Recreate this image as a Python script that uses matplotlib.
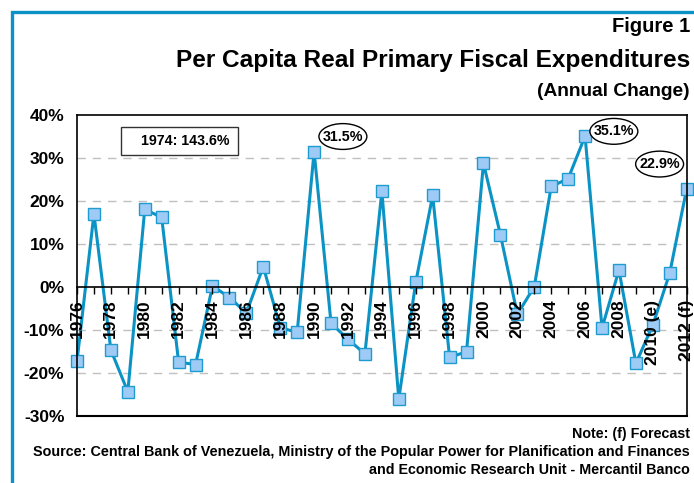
import matplotlib
matplotlib.use("Agg")
import matplotlib.pyplot as plt
from matplotlib.patches import Rectangle, Ellipse
from matplotlib.ticker import MultipleLocator, FuncFormatter

plt.rcParams['font.family'] = ['Liberation Sans', 'DejaVu Sans']
plt.rcParams['font.weight'] = 'bold'

# annual change of per capita real primary fiscal expenditures, %
years = list(range(1976, 2013))
change = [-17.2, 17.0, -14.6, -24.3, 18.1, 16.2, -17.4, -18.0, 0.3, -2.4,
          -6.0, 4.8, -9.4, -10.5, 31.5, -8.4, -12.1, -15.5, 22.3, -26.0,
          1.1, 21.3, -16.3, -15.0, 28.8, 12.2, -6.3, 0.1, 23.4, 25.2,
          35.1, -9.5, 4.0, -17.7, -8.8, 3.3, 22.9]
tick_years = list(range(1976, 2013, 2))
tick_labels = [str(y) for y in tick_years[:-2]] + ["2010 (e)", "2012 (f)"]
callouts = {1990: "31.5%", 2006: "35.1%", 2012: "22.9%"}

BLUE = "#0a93c4"
W, H = 694, 483

fig = plt.figure(figsize=(W / 100, H / 100), dpi=100)
fig.patch.set_facecolor("white")

# frame around the whole figure
fig.add_artist(Rectangle((11.5 / W, -0.1), 1.2, (H - 11.5) / H + 0.1,
                         transform=fig.transFigure, fill=False,
                         edgecolor=BLUE, linewidth=2.4))

ax = fig.add_axes([77 / W, (H - 416.3) / H, (686.7 - 77) / W, (416.3 - 115) / H])
ax.set_axisbelow(False)  # year labels are drawn over the series
ax.plot(years, change, color=BLUE, linewidth=2.2, marker="s", markersize=8.3,
        markerfacecolor="#9dcbf5", markeredgecolor="#1e9bd0",
        markeredgewidth=1.0, clip_on=False, zorder=2)

ax.set_xlim(1976, 2012)
ax.set_ylim(-30, 40)
ax.yaxis.set_major_locator(MultipleLocator(10))
ax.yaxis.set_major_formatter(FuncFormatter(lambda v, _: f"{v:.0f}%"))
ax.tick_params(axis="y", length=0, pad=9, labelsize=12.5)
for lbl in ax.get_yticklabels():
    lbl.set_fontweight("bold")

for v in [30, 20, 10, -10, -20]:
    ax.axhline(v, color="#c0c0c0", linewidth=1.0, linestyle=(0, (6, 5)), zorder=1)

# horizontal axis sits at zero
ax.spines["bottom"].set_position(("data", 0))
ax.spines["bottom"].set_linewidth(1.2)
for s in ["top", "left", "right"]:
    ax.spines[s].set_linewidth(1.2)
ax.plot([1976, 2012], [-30, -30], color="black", linewidth=1.5,
        clip_on=False, zorder=4)
ax.xaxis.set_minor_locator(MultipleLocator(1))
ax.set_xticks(tick_years)
ax.set_xticklabels(tick_labels, rotation=90, va="top", ha="center",
                   fontsize=12.5, fontweight="bold")
ax.tick_params(axis="x", which="both", direction="out", length=5,
               width=1.0, pad=4)

# boxed note for the off-scale year
ax.add_patch(Rectangle((1978.6, 30.7), 6.9, 6.5, facecolor="white",
                       edgecolor="#333333", linewidth=1.0, zorder=6))
ax.text(1982.4, 33.95, "1974: 143.6%", fontsize=10.2, fontweight="bold",
        ha="center", va="center", zorder=7)

callout_pos = {1990: (1991.7, 35.0), 2006: (2007.7, 36.2), 2012: (2010.4, 28.6)}
for yr, txt in callouts.items():
    cx, cy = callout_pos[yr]
    ax.add_patch(Ellipse((cx, cy), 2.83, 6.0, facecolor="white",
                         edgecolor="black", linewidth=1.0, zorder=6,
                         clip_on=False))
    ax.text(cx, cy, txt, fontsize=10.3, fontweight="bold", ha="center",
            va="center", zorder=7)

fig.text(690 / W, 1 - 27 / H, "Figure 1", fontsize=14.5, fontweight="bold",
         ha="right", va="center")
fig.text(690 / W, 1 - 61 / H, "Per Capita Real Primary Fiscal Expenditures",
         fontsize=17.6, fontweight="bold", ha="right", va="center")
fig.text(690 / W, 1 - 92 / H, "(Annual Change)", fontsize=13.8,
         fontweight="bold", ha="right", va="center")

fig.text(690 / W, 1 - 434 / H, "Note: (f) Forecast", fontsize=10.3,
         fontweight="bold", ha="right", va="center")
fig.text(690 / W, 1 - 452 / H,
         "Source: Central Bank of Venezuela, Ministry of the Popular Power for Planification and Finances",
         fontsize=10.4, fontweight="bold", ha="right", va="center")
fig.text(690 / W, 1 - 470 / H, "and Economic Research Unit - Mercantil Banco",
         fontsize=10.3, fontweight="bold", ha="right", va="center")

fig.savefig("out.png", dpi=100, facecolor="white")
